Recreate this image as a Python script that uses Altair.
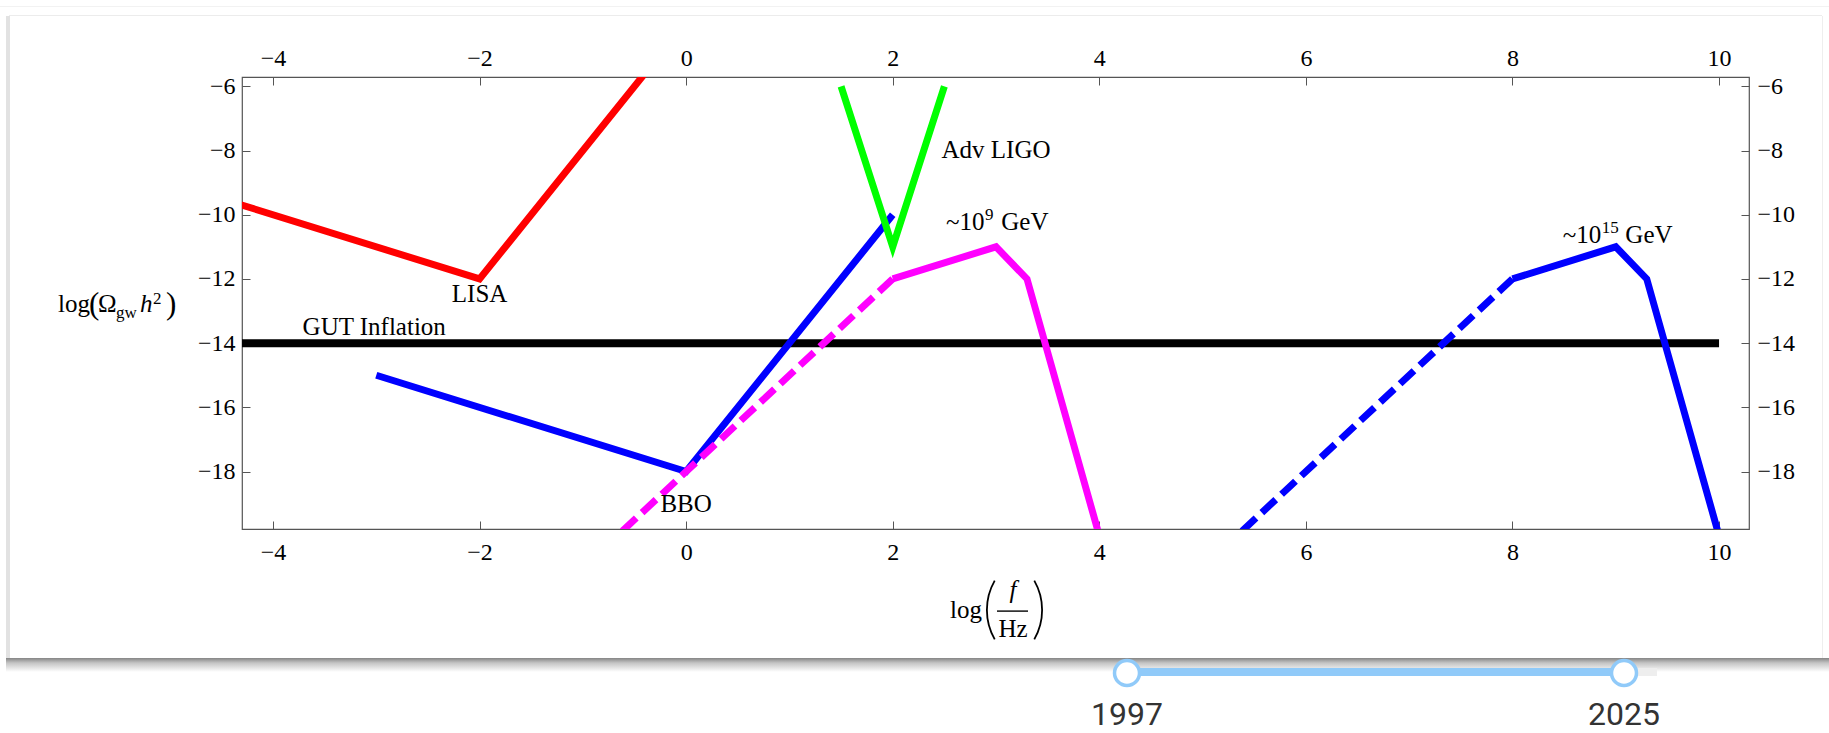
import altair as alt
import pandas as pd

# ---------------------------------------------------------------------------
# Plot-area geometry (pixels) and axis ranges
# ---------------------------------------------------------------------------
PLOT_W, PLOT_H = 1507, 452
PAD = {"left": 242, "top": 77, "right": 80, "bottom": 204}

X_DOMAIN = [-4.3, 10.29]
Y_DOMAIN = [-19.79, -5.71]
x_ticks = [-4, -2, 0, 2, 4, 6, 8, 10]
y_ticks = [-18, -16, -14, -12, -10, -8, -6]

SERIF = "Liberation Serif"

# ---------------------------------------------------------------------------
# Curves: log10(f/Hz) vs log10(Omega_gw h^2)
# ---------------------------------------------------------------------------
gut_x = [-4.3, 10.0]
gut_y = [-14.0, -14.0]

lisa_x = [-5.0, -2.0, 0.0]
lisa_y = [-9.0, -12.0, -4.0]

bbo_x = [-3.0, 0.0, 2.0]
bbo_y = [-15.0, -18.0, -10.0]

ligo_x = [1.5, 2.0, 2.5]
ligo_y = [-6.0, -11.0, -6.0]

# reheating ~1e9 GeV spectrum: dashed rise, then solid peak
low_rise_x = [-1.0, 2.0]
low_rise_y = [-21.0, -12.0]
low_peak_x = [2.0, 3.0, 3.3, 4.0]
low_peak_y = [-12.0, -11.0, -12.0, -20.0]

# reheating ~1e15 GeV spectrum
high_rise_x = [5.0, 8.0]
high_rise_y = [-21.0, -12.0]
high_peak_x = [8.0, 9.0, 9.3, 10.0]
high_peak_y = [-12.0, -11.0, -12.0, -20.0]

# plain annotations (centered, alphabetic baseline)
note_text = ["LISA", "GUT Inflation", "Adv LIGO", "BBO"]
note_x = [-2.0, -3.02, 3.0, 0.0]
note_y = [-12.72, -13.75, -8.24, -19.25]

# energy-scale annotations with exponents
gev_mantissa = ["~10", "~10"]
gev_exponent = ["9", "15"]
gev_x = [3.0, 9.0]
gev_y = [-10.48, -10.89]
gev_left_dx = [-11.6, -14.5]   # where mantissa ends / exponent starts
gev_unit_dx = [5.3, 9.6]       # where "GeV" starts

# range slider below the card
years = [1997, 2025]

xscale = alt.Scale(domain=X_DOMAIN, nice=False, zero=False)
yscale = alt.Scale(domain=Y_DOMAIN, nice=False, zero=False)

axis_style = dict(
    grid=False, domain=False, ticks=True, tickSize=8, offset=-8,
    tickColor="#555555", tickWidth=1, labelFont=SERIF, labelFontSize=24,
    labelColor="black", title=None, labelOverlap=False, labelFlush=False,
)


def curve(xs, ys, color, width, dash=None, x_axis=None, y_axis=None):
    df = pd.DataFrame({"x": xs, "y": ys, "i": list(range(len(xs)))})
    kw = dict(color=color, strokeWidth=width, clip=True, strokeJoin="miter")
    if dash:
        kw["strokeDash"] = dash
    return alt.Chart(df).mark_line(**kw).encode(
        x=alt.X("x:Q", scale=xscale, axis=x_axis),
        y=alt.Y("y:Q", scale=yscale, axis=y_axis),
        order="i:Q",
    )


LW = 7
black = curve(
    gut_x, gut_y, "black", 8,
    x_axis=alt.Axis(orient="bottom", values=x_ticks, labelPadding=11, **axis_style),
    y_axis=alt.Axis(orient="left", values=y_ticks, labelPadding=7, **axis_style),
)
red = curve(
    lisa_x, lisa_y, "#ff0000", LW,
    x_axis=alt.Axis(orient="top", values=x_ticks, labelPadding=7, **axis_style),
    y_axis=alt.Axis(orient="right", values=y_ticks, labelPadding=8, **axis_style),
)
bbo = curve(bbo_x, bbo_y, "#0000ff", LW)
low_rise = curve(low_rise_x, low_rise_y, "#ff00ff", LW, dash=[19, 8])
low_peak = curve(low_peak_x, low_peak_y, "#ff00ff", LW)
high_rise = curve(high_rise_x, high_rise_y, "#0000ff", LW, dash=[19, 8])
high_peak = curve(high_peak_x, high_peak_y, "#0000ff", LW)
ligo = curve(ligo_x, ligo_y, "#00ff00", LW)

notes = alt.Chart(pd.DataFrame({"t": note_text, "x": note_x, "y": note_y})).mark_text(
    font=SERIF, fontSize=25, color="black", align="center", baseline="alphabetic"
).encode(
    x=alt.X("x:Q", scale=xscale, axis=None),
    y=alt.Y("y:Q", scale=yscale, axis=None),
    text="t:N",
)

gev_layers = []
for i in range(len(gev_x)):
    row = pd.DataFrame({"x": [gev_x[i]], "y": [gev_y[i]],
                        "m": [gev_mantissa[i]], "e": [gev_exponent[i]], "u": ["GeV"]})
    base = alt.Chart(row)
    pos = dict(x=alt.X("x:Q", scale=xscale, axis=None),
               y=alt.Y("y:Q", scale=yscale, axis=None))
    gev_layers.append(base.mark_text(
        font=SERIF, fontSize=25, align="right", baseline="alphabetic",
        dx=gev_left_dx[i], color="black").encode(text="m:N", **pos))
    gev_layers.append(base.mark_text(
        font=SERIF, fontSize=17, align="left", baseline="alphabetic",
        dx=gev_left_dx[i] + 0.5, dy=-10, color="black").encode(text="e:N", **pos))
    gev_layers.append(base.mark_text(
        font=SERIF, fontSize=25, align="left", baseline="alphabetic",
        dx=gev_unit_dx[i], color="black").encode(text="u:N", **pos))

one = pd.DataFrame({"k": [0]})


def label(text, x, y, size=25, align="left", style="normal", color="black", font=SERIF):
    return alt.Chart(one).mark_text(
        text=text, font=font, fontSize=size, align=align, baseline="alphabetic",
        fontStyle=style, color=color,
    ).encode(x=alt.value(x), y=alt.value(y))


# vertical axis title: log(Omega_gw h^2)
y_title = [
    label("log", -184, 235),
    label("(", -153, 237, size=31),
    label("\u03a9", -144, 235),
    label("gw", -126, 241, size=17),
    label("h", -102, 235, style="italic"),
    label("2", -89, 227, size=17),
    label(")", -76, 237, size=31),
]

# horizontal axis title: log(f / Hz) with stretched parentheses
x_title = [
    label("log", 708, 541),
    alt.Chart(one).mark_arc(radius=60, radius2=58.2, theta=4.192, theta2=5.232,
                            color="black").encode(x=alt.value(804), y=alt.value(533)),
    label("f", 771, 521, align="center", style="italic"),
    alt.Chart(one).mark_rect(color="black").encode(
        x=alt.value(755), x2=alt.value(786), y=alt.value(533.4), y2=alt.value(534.8)),
    label("Hz", 771, 560, align="center"),
    alt.Chart(one).mark_arc(radius=60, radius2=58.2, theta=1.051, theta2=2.091,
                            color="black").encode(x=alt.value(741), y=alt.value(533)),
]


def box(x1, x2, y1, y2, color):
    return alt.Chart(one).mark_rect(color=color).encode(
        x=alt.value(x1), x2=alt.value(x2), y=alt.value(y1), y2=alt.value(y2))


shadow = alt.LinearGradient(
    gradient="linear", x1=0, x2=0, y1=0, y2=1,
    stops=[alt.GradientStop(color="#858585", offset=0),
           alt.GradientStop(color="#c4c4c4", offset=0.35),
           alt.GradientStop(color="#ffffff", offset=1)],
)

# card outline and its drop shadow
card = [
    box(-242, 1587, -71, -70, "#f2f2f2"),
    box(-233, 1580, -62, -61, "#ececec"),
    box(-236, -232, -61, 583, "#e2e2e2"),
    box(1580, 1581, -61, 583, "#eeeeee"),
    alt.Chart(one).mark_rect(color=shadow).encode(
        x=alt.value(-236), x2=alt.value(1587), y=alt.value(581), y2=alt.value(595)),
]

# year range slider
slider = [
    box(1382, 1415, 591, 599, "#eeeeee"),
    box(885, 1382, 591, 599, "#90caf9"),
]
for yr, px in zip(years, [885, 1382]):
    slider.append(alt.Chart(one).mark_point(
        shape="circle", size=625, filled=True, fill="white", stroke="#90caf9",
        strokeWidth=3.5, opacity=1).encode(x=alt.value(px), y=alt.value(596)))
    slider.append(label(str(yr), px, 648, size=32, align="center",
                        color="#333333", font="Roboto"))

chart = alt.layer(
    *card,
    black, red, bbo, low_rise, low_peak, high_rise, high_peak, ligo,
    notes, *gev_layers, *y_title, *x_title, *slider,
).resolve_axis(
    x="independent", y="independent"
).properties(
    width=PLOT_W, height=PLOT_H,
    autosize=alt.AutoSizeParams(type="none"),
    padding=PAD,
).configure(
    background="white"
).configure_axis(
    labelFont=SERIF, labelFontSize=24, labelColor="black"
).configure_view(
    stroke="#555555", strokeWidth=1.2
)

chart.save("out.html", embed_options={"renderer": "svg", "actions": False})
